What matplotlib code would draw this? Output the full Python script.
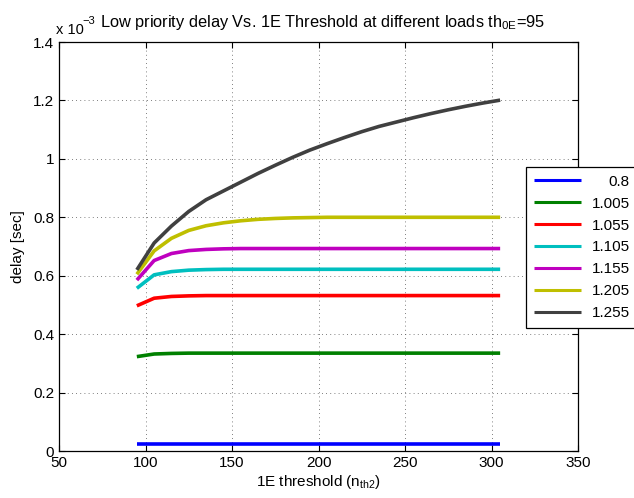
import matplotlib
matplotlib.use("Agg")
import matplotlib.pyplot as plt
from matplotlib.ticker import FuncFormatter

# threshold sweep (n_th2) and low-priority delay per load, in units of 1e-3 s
threshold = [95, 105, 115, 125, 135, 145, 155, 165, 175, 185, 195,
             205, 215, 225, 235, 245, 255, 265, 275, 285, 295, 305]
loads = ["0.8", "1.005", "1.055", "1.105", "1.155", "1.205", "1.255"]

delay_080 = [0.025] * 22
delay_1005 = [0.323, 0.332, 0.334] + [0.335] * 19
delay_1055 = [0.497, 0.523, 0.529, 0.531] + [0.532] * 18
delay_1105 = [0.557, 0.603, 0.614, 0.619, 0.621] + [0.622] * 17
delay_1155 = [0.585, 0.652, 0.676, 0.686, 0.690, 0.692] + [0.693] * 16
delay_1205 = [0.605, 0.685, 0.728, 0.755, 0.771, 0.781, 0.788, 0.793, 0.796,
              0.798, 0.799] + [0.800] * 11
delay_1255 = [0.620, 0.712, 0.770, 0.820, 0.860, 0.890, 0.920, 0.950, 0.978,
              1.005, 1.030, 1.052, 1.073, 1.093, 1.111, 1.126, 1.141, 1.155,
              1.168, 1.180, 1.191, 1.201]
delays = [delay_080, delay_1005, delay_1055, delay_1105, delay_1155, delay_1205, delay_1255]

colors = [(0, 0, 1), (0, 0.5, 0), (1, 0, 0), (0, 0.75, 0.75),
          (0.75, 0, 0.75), (0.75, 0.75, 0), (0.25, 0.25, 0.25)]

plt.rcParams.update({
    "font.family": "Liberation Sans",
    "font.size": 11,
    "mathtext.fontset": "custom",
    "mathtext.rm": "Liberation Sans",
    "mathtext.it": "Liberation Sans",
})

fig = plt.figure(figsize=(6.34, 4.98), dpi=100)
ax = fig.add_axes([59 / 634, 47 / 498, 519 / 634, 409 / 498])

for vals, lab, col in zip(delays, loads, colors):
    ax.plot(threshold, vals, color=col, lw=2.6, label=lab, solid_capstyle="butt")

ax.set_xlim(50, 350)
ax.set_ylim(0, 1.4)
ax.set_xticks(range(50, 351, 50))
ax.set_yticks([0, 0.2, 0.4, 0.6, 0.8, 1.0, 1.2, 1.4])
ax.yaxis.set_major_formatter(FuncFormatter(lambda v, p: f"{v:g}"))
ax.tick_params(direction="in", top=True, right=True, length=4, width=0.8, labelsize=11)
ax.grid(True, linestyle=(0, (1, 4)), color="#555555", lw=0.6)
for s in ax.spines.values():
    s.set_linewidth(0.9)

ax.set_xlabel("1E threshold (n$_{\\mathrm{th2}}$)", labelpad=2)
ax.set_ylabel("delay [sec]", labelpad=6)
fig.text(56 / 634, 1 - 34 / 498, "x 10", ha="left", va="baseline", fontsize=10.5)
fig.text(82 / 634, 1 - 24 / 498, "\u22123", ha="left", va="baseline", fontsize=8)
fig.text(323 / 634, 1 - 27 / 498,
         "Low priority delay Vs. 1E Threshold at different loads th$_{\\mathrm{0E}}$=95",
         ha="center", va="baseline", fontsize=11.8)

leg = fig.legend(loc="upper left", bbox_to_anchor=(526 / 634, 331 / 498),
                 fancybox=False, framealpha=1, edgecolor="black", fontsize=11,
                 handlelength=3.1, handletextpad=0.7, labelspacing=0.52,
                 borderpad=0.5, borderaxespad=0)
leg.get_frame().set_linewidth(0.9)
for h in leg.get_lines():
    h.set_linewidth(2.2)

# right-align the legend labels by shifting the shorter ones
fig.canvas.draw()
renderer = fig.canvas.get_renderer()
widths = [t.get_window_extent(renderer).width for t in leg.get_texts()]
shift = max(widths)
for t, w in zip(leg.get_texts(), widths):
    t.set_position((shift - w, 0))

fig.savefig("out.png", dpi=100)
